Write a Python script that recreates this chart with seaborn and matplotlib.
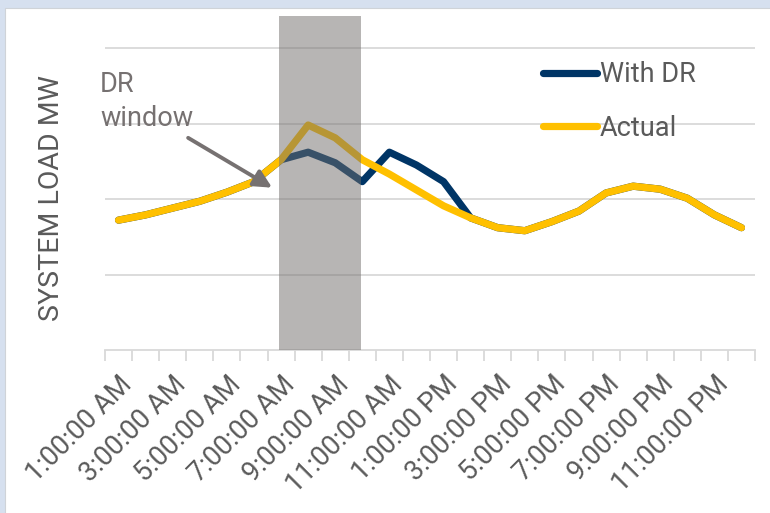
import matplotlib
matplotlib.use("Agg")
import matplotlib.pyplot as plt
from matplotlib.patches import Rectangle
import seaborn as sns
import pandas as pd

# Hourly system load (relative MW units)
hours = ["1:00:00 AM", "2:00:00 AM", "3:00:00 AM", "4:00:00 AM", "5:00:00 AM", "6:00:00 AM",
         "7:00:00 AM", "8:00:00 AM", "9:00:00 AM", "10:00:00 AM", "11:00:00 AM", "12:00:00 PM",
         "1:00:00 PM", "2:00:00 PM", "3:00:00 PM", "4:00:00 PM", "5:00:00 PM", "6:00:00 PM",
         "7:00:00 PM", "8:00:00 PM", "9:00:00 PM", "10:00:00 PM", "11:00:00 PM", "12:00:00 AM"]
actual = [1.72, 1.79, 1.88, 1.97, 2.09, 2.23, 2.52, 2.98, 2.81, 2.52, 2.33, 2.12,
          1.91, 1.75, 1.62, 1.58, 1.70, 1.84, 2.08, 2.17, 2.13, 2.01, 1.79, 1.62]
with_dr = [1.72, 1.79, 1.88, 1.97, 2.09, 2.23, 2.52, 2.62, 2.48, 2.23, 2.62, 2.45,
           2.23, 1.75, 1.62, 1.58, 1.70, 1.84, 2.08, 2.17, 2.13, 2.01, 1.79, 1.62]
series_names = ["With DR", "Actual"]
series_colors = ["#003566", "#FFC000"]
dr_window = (5.92, 8.94)  # shaded demand-response window, in hour-index units

sns.set_theme(style="white")
plt.rcParams["font.family"] = ["Roboto", "DejaVu Sans"]

df = pd.DataFrame({
    "hour": list(range(len(hours))) * 2,
    "load": with_dr + actual,
    "series": [series_names[0]] * len(hours) + [series_names[1]] * len(hours),
})

fig = plt.figure(figsize=(7.7, 5.13), dpi=100)
fig.patch.set_facecolor("#d6e0ef")
panel = Rectangle((5 / 770, -0.01), 1, (513 - 8) / 513 + 0.01, transform=fig.transFigure,
                  facecolor="white", edgecolor="#cfd3d8", lw=0.8, zorder=-10)
fig.add_artist(panel)

ax = fig.add_axes([105 / 770, (513 - 350) / 513, 650 / 770, 334 / 513])
ax.set_facecolor("none")

sns.lineplot(data=df, x="hour", y="load", hue="series", hue_order=series_names,
             palette=series_colors, linewidth=5.2, ax=ax, legend=False,
             solid_capstyle="round", solid_joinstyle="round", zorder=3)

ax.axvspan(dr_window[0], dr_window[1], color="#716d6b", alpha=0.5, lw=0, zorder=4)

ax.set_xlim(-0.5, len(hours) - 0.5)
ax.set_ylim(0, 4.424)
ax.set_yticks([1, 2, 3, 4])
ax.set_yticklabels([])
ax.tick_params(axis="y", length=0)
ax.grid(axis="y", color="#d9d9d9", lw=1.3, zorder=0)
ax.set_axisbelow(True)

# tick marks at category boundaries, labels on every other hour
ax.set_xticks([i - 0.5 for i in range(len(hours) + 1)])
ax.set_xticklabels([])
ax.tick_params(axis="x", which="major", bottom=True, length=8, width=1.3,
               color="#d9d9d9", direction="out")
ax.set_xticks(list(range(0, len(hours), 2)), minor=True)
ax.set_xticklabels(hours[::2], minor=True, rotation=45, ha="right",
                   rotation_mode="anchor", fontsize=19.5, color="#5a5a5a")
ax.tick_params(axis="x", which="minor", bottom=True, length=0, pad=15)

for s in ["left", "right", "top"]:
    ax.spines[s].set_visible(False)
ax.spines["bottom"].set_color("#d9d9d9")
ax.spines["bottom"].set_linewidth(1.3)

ax.set_xlabel("")
ax.set_ylabel("SYSTEM LOAD MW", fontsize=20.5, color="#5a5a5a")
ax.yaxis.set_label_coords(-0.062, 0.455)

handles = [plt.Line2D([], [], color=c, lw=5.2, solid_capstyle="round") for c in series_colors]
ax.legend(handles, series_names, loc="upper left", bbox_to_anchor=(0.64, 0.93), frameon=False,
          fontsize=19.5, labelcolor="#5a5a5a", handlelength=2.0, handletextpad=0.1,
          labelspacing=0.98, borderaxespad=0.4)

ax.text(-0.68, 3.69, "DR\nwindow", fontsize=19.5, color="#767171", va="top", ha="left",
        linespacing=1.3, zorder=5)
ax.annotate("", xy=(5.67, 2.15), xytext=(2.57, 2.81),
            arrowprops=dict(arrowstyle="-|>,head_length=0.9,head_width=0.45",
                            color="#767171", lw=2.8, shrinkA=0, shrinkB=0), zorder=6)

fig.savefig("out.png", dpi=100)
